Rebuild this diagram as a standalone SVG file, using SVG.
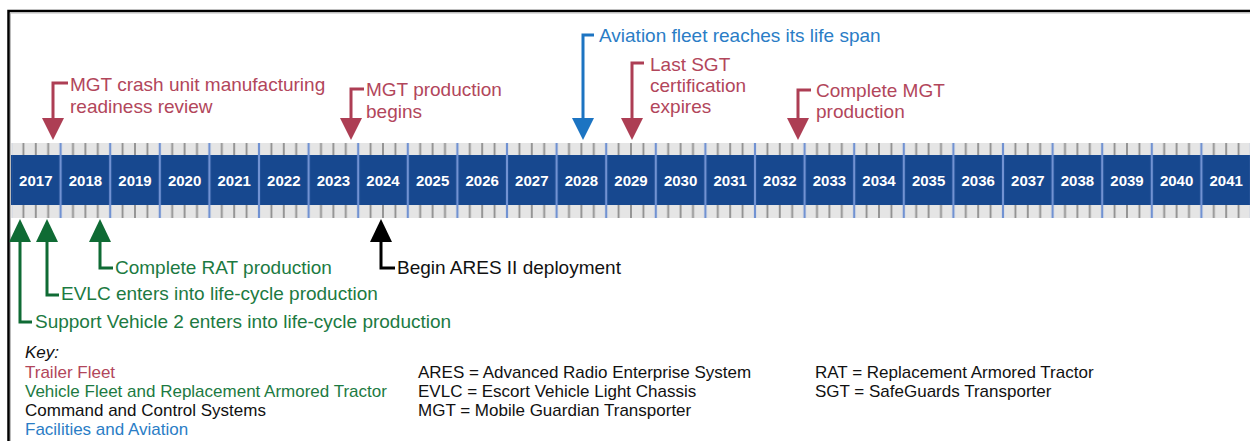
<svg xmlns="http://www.w3.org/2000/svg" width="1250" height="441" viewBox="0 0 1250 441">
<style>
text{font-family:"Liberation Sans",Arial,sans-serif}
.lbl{font-size:19px}
.key{font-size:17px}
.yr{font-size:15px;font-weight:bold;fill:#fff;text-anchor:middle}
.red{fill:#b2465b}
.grn{fill:#1c7a42}
.blu{fill:#2a7dc6}
.blk{fill:#111}
.sh{fill:none;stroke-width:3}
.sred{stroke:#ad3e54}
.sgrn{stroke:#0f6b34}
.sblu{stroke:#1c74c2}
.sblk{stroke:#000}
.hred{fill:#ad3e54}
.hgrn{fill:#0f6b34}
.hblu{fill:#1c74c2}
.hblk{fill:#000}
</style>
<defs>
<pattern id="tk" x="11" y="0" width="49.6" height="441" patternUnits="userSpaceOnUse">
<rect width="49.6" height="441" fill="#e5e5e5"/>
<path d="M12.4,0V441M24.8,0V441M37.2,0V441" stroke="#8e8e8e" stroke-width="1.8"/>
</pattern>
<pattern id="dv" x="-13.8" y="0" width="49.6" height="441" patternUnits="userSpaceOnUse">
<path d="M24.8,0V441" stroke="#7192d2" stroke-width="2.2"/>
</pattern>
</defs>
<rect width="1250" height="441" fill="#fff"/>
<path d="M8.5,441V11H1250" fill="none" stroke="#000" stroke-width="2.5"/>
<path d="M10.5,441V13H1250" fill="none" stroke="#bbb" stroke-width="1"/>

<g id="timeline">
<rect x="11" y="143" width="1239" height="75" fill="url(#tk)"/>
<rect x="11" y="155" width="1239" height="50" fill="#17488f"/>
<rect x="12" y="143" width="1238" height="75" fill="url(#dv)"/>
<g class="yr">
<text x="35.8" y="186">2017</text>
<text x="85.4" y="186">2018</text>
<text x="135" y="186">2019</text>
<text x="184.6" y="186">2020</text>
<text x="234.2" y="186">2021</text>
<text x="283.8" y="186">2022</text>
<text x="333.4" y="186">2023</text>
<text x="383" y="186">2024</text>
<text x="432.6" y="186">2025</text>
<text x="482.2" y="186">2026</text>
<text x="531.8" y="186">2027</text>
<text x="581.4" y="186">2028</text>
<text x="631" y="186">2029</text>
<text x="680.6" y="186">2030</text>
<text x="730.2" y="186">2031</text>
<text x="779.8" y="186">2032</text>
<text x="829.4" y="186">2033</text>
<text x="879" y="186">2034</text>
<text x="928.6" y="186">2035</text>
<text x="978.2" y="186">2036</text>
<text x="1027.8" y="186">2037</text>
<text x="1077.4" y="186">2038</text>
<text x="1127" y="186">2039</text>
<text x="1176.6" y="186">2040</text>
<text x="1226.2" y="186">2041</text>
</g>
</g>

<g id="connectors">
<path class="sh sred" d="M68,83H53V120"/>
<polygon class="hred" points="42,118 64,118 53,140"/>
<path class="sh sred" d="M364,89H351V120"/>
<polygon class="hred" points="340,118 362,118 351,140"/>
<path class="sh sblu" d="M594,35H583V120"/>
<polygon class="hblu" points="572,118 594,118 583,140"/>
<path class="sh sred" d="M644,63H632V120"/>
<polygon class="hred" points="621,118 643,118 632,140"/>
<path class="sh sred" d="M811,90H798V120"/>
<polygon class="hred" points="787,118 809,118 798,140"/>
<path class="sh sgrn" d="M20,240V322H32"/>
<polygon class="hgrn" points="9,242 31,242 20,219"/>
<path class="sh sgrn" d="M47,240V295H59"/>
<polygon class="hgrn" points="36,242 58,242 47,219"/>
<path class="sh sgrn" d="M100,240V268H113"/>
<polygon class="hgrn" points="89,242 111,242 100,219"/>
<path class="sh sblk" d="M381,240V268H395"/>
<polygon class="hblk" points="370,242 392,242 381,219"/>
</g>

<g id="ev-mgt-crash" class="lbl red"><text x="70" y="91">MGT crash unit manufacturing</text><text x="70" y="113">readiness review</text></g>
<g id="ev-mgt-prod" class="lbl red"><text x="366" y="96">MGT production</text><text x="366" y="118">begins</text></g>
<g id="ev-aviation" class="lbl blu"><text x="599" y="42">Aviation fleet reaches its life span</text></g>
<g id="ev-sgt" class="lbl red"><text x="650" y="71">Last SGT</text><text x="650" y="92">certification</text><text x="650" y="113">expires</text></g>
<g id="ev-mgt-complete" class="lbl red"><text x="816" y="97">Complete MGT</text><text x="816" y="118">production</text></g>
<g id="ev-sv2" class="lbl grn"><text x="35" y="328">Support Vehicle 2 enters into life-cycle production</text></g>
<g id="ev-evlc" class="lbl grn"><text x="61" y="300">EVLC enters into life-cycle production</text></g>
<g id="ev-rat" class="lbl grn"><text x="115" y="274">Complete RAT production</text></g>
<g id="ev-ares" class="lbl blk"><text x="397" y="274">Begin ARES II deployment</text></g>

<g id="key" class="key">
<text x="25" y="358" class="blk" font-style="italic">Key:</text>
<text x="25" y="378" class="red">Trailer Fleet</text>
<text x="25" y="397" class="grn">Vehicle Fleet and Replacement Armored Tractor</text>
<text x="25" y="416" class="blk">Command and Control Systems</text>
<text x="25" y="435" class="blu">Facilities and Aviation</text>
</g>
<g id="abbreviations" class="key blk">
<text x="418" y="378">ARES = Advanced Radio Enterprise System</text>
<text x="418" y="397">EVLC = Escort Vehicle Light Chassis</text>
<text x="418" y="416">MGT = Mobile Guardian Transporter</text>
<text x="815" y="378">RAT = Replacement Armored Tractor</text>
<text x="815" y="397">SGT = SafeGuards Transporter</text>
</g>
</svg>
